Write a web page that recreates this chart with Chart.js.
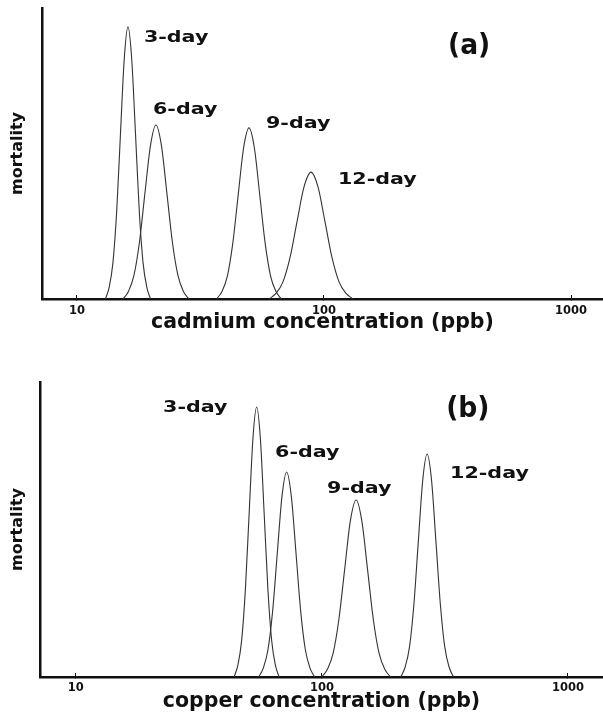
<!DOCTYPE html>
<html>
<head>
<meta charset="utf-8">
<script src="https://cdn.jsdelivr.net/npm/chart.js@4/dist/chart.umd.min.js"></script>
<style>
  html, body { margin: 0; padding: 0; background: #fff; }
  .panel { position: relative; width: 603px; }
  #panelA { height: 345px; }
  #panelB { height: 367px; }
</style>
</head>
<body>
<div class="panel" id="panelA"><canvas id="cadmiumChart"></canvas></div>
<div class="panel" id="panelB"><canvas id="copperChart"></canvas></div>
<script>
// tick labels on the log axis and the curve names
const xTickValues = [10, 100, 1000];
const dayLabels = ['3-day', '6-day', '9-day', '12-day'];

// cadmium (ppb) vs relative mortality
const cd3Conc = [13.04, 13.51, 13.99, 14.49, 15.00, 15.54, 16.09, 16.66, 17.26, 17.87, 18.51, 19.17, 19.85];
const cd3Mort = [0, 0.041, 0.126, 0.304, 0.567, 0.825, 0.935, 0.825, 0.567, 0.304, 0.126, 0.041, 0];
const cd6Conc = [15.35, 16.16, 17.01, 17.90, 18.84, 19.84, 20.88, 21.98, 23.13, 24.35, 25.63, 26.98, 28.40];
const cd6Mort = [0, 0.026, 0.081, 0.194, 0.363, 0.527, 0.598, 0.527, 0.363, 0.194, 0.081, 0.026, 0];
const cd9Conc = [36.75, 38.64, 40.64, 42.73, 44.94, 47.26, 49.70, 52.27, 54.96, 57.80, 60.78, 63.92, 67.22];
const cd9Mort = [0, 0.026, 0.079, 0.191, 0.357, 0.519, 0.588, 0.519, 0.357, 0.191, 0.079, 0.026, 0];
const cd12Conc = [59.88, 63.92, 68.23, 72.84, 77.75, 83.00, 88.60, 94.58, 100.96, 107.77, 115.05, 122.81, 131.10];
const cd12Mort = [0, 0.019, 0.059, 0.142, 0.265, 0.385, 0.436, 0.385, 0.265, 0.142, 0.059, 0.019, 0];

// copper (ppb) vs relative mortality
const cu3Conc = [43.99, 45.56, 47.19, 48.87, 50.62, 52.43, 54.30, 56.24, 58.25, 60.33, 62.48, 64.71, 67.02];
const cu3Mort = [0, 0.040, 0.124, 0.297, 0.555, 0.807, 0.915, 0.807, 0.555, 0.297, 0.124, 0.040, 0];
const cu6Conc = [55.37, 57.83, 60.41, 63.10, 65.90, 68.84, 71.90, 75.10, 78.44, 81.93, 85.58, 89.39, 93.36];
const cu6Mort = [0, 0.031, 0.094, 0.226, 0.422, 0.613, 0.695, 0.613, 0.422, 0.226, 0.094, 0.031, 0];
const cu9Conc = [99.75, 105.3, 111.1, 117.2, 123.7, 130.5, 137.7, 145.3, 153.3, 161.8, 170.7, 180.2, 190.1];
const cu9Mort = [0, 0.026, 0.081, 0.195, 0.364, 0.529, 0.600, 0.529, 0.364, 0.195, 0.081, 0.026, 0];
const cu12Conc = [209.0, 217.8, 227.0, 236.5, 246.5, 256.9, 267.7, 279.0, 290.7, 303.0, 315.7, 329.0, 342.9];
const cu12Mort = [0, 0.033, 0.102, 0.246, 0.459, 0.667, 0.756, 0.667, 0.459, 0.246, 0.102, 0.033, 0];

const AXIS_FONT = '"DejaVu Sans", sans-serif';
const INK = '#111';
const CURVE = '#333';

function toPoints(conc, mort) {
    return conc.map((c, i) => ({ x: c, y: mort[i] }));
}

// text next to the peaks + the panel letter, anchored in data units
const curveLabelPlugin = {
    id: 'curveLabels',
    afterDatasetsDraw(chart, args, opts) {
        const { ctx, scales: { x, y } } = chart;
        ctx.save();
        ctx.fillStyle = INK;
        ctx.textAlign = 'left';
        ctx.textBaseline = 'middle';
        opts.items.forEach(item => {
            ctx.save();
            ctx.translate(x.getPixelForValue(item.at[0]), y.getPixelForValue(item.at[1]));
            ctx.scale(item.stretch, 1);
            ctx.font = `bold ${item.size}px ${AXIS_FONT}`;
            ctx.fillText(item.text, 0, 0);
            ctx.restore();
        });
        ctx.restore();
    }
};

function makePanel(canvasId, p) {
    const ctx = document.getElementById(canvasId).getContext('2d');
    return new Chart(ctx, {
        type: 'line',
        data: {
            datasets: p.series.map((s, i) => ({
                label: dayLabels[i],
                data: toPoints(s[0], s[1]),
                borderColor: CURVE,
                borderWidth: 1.1,
                pointRadius: 0,
                fill: false,
                cubicInterpolationMode: 'monotone'
            }))
        },
        options: {
            responsive: true,
            maintainAspectRatio: false,
            animation: false,
            layout: { padding: { top: p.top, right: 0, bottom: 0, left: 0 } },
            plugins: {
                legend: { display: false },
                tooltip: { enabled: false },
                curveLabels: { items: p.labels }
            },
            scales: {
                x: {
                    type: 'logarithmic',
                    min: p.xMin,
                    max: p.xMax,
                    afterBuildTicks: scale => { scale.ticks = xTickValues.map(v => ({ value: v })); },
                    afterFit: scale => { scale.height = p.xHeight; },
                    ticks: {
                        autoSkip: false,
                        maxRotation: 0,
                        padding: p.tickPad,
                        color: INK,
                        font: { family: AXIS_FONT, size: 11.5, weight: 'bold' },
                        callback: v => String(v)
                    },
                    grid: { display: true, drawOnChartArea: false, drawTicks: true, tickLength: -4, color: INK, lineWidth: 1 },
                    border: { display: true, color: INK, width: 2.5 },
                    title: {
                        display: true,
                        text: p.xTitle,
                        color: INK,
                        font: { family: AXIS_FONT, size: 20.5, weight: 'bold', lineHeight: 1 },
                        padding: { top: 0, bottom: p.titlePad }
                    }
                },
                y: {
                    min: 0,
                    max: 1,
                    afterFit: scale => { scale.width = p.yWidth; },
                    ticks: { display: false },
                    grid: { display: false },
                    border: { display: true, color: INK, width: 2.5 },
                    title: {
                        display: true,
                        text: 'mortality',
                        color: INK,
                        font: { family: AXIS_FONT, size: 16, weight: 'bold', lineHeight: 1 },
                        padding: { top: 10, bottom: 0 }
                    }
                }
            }
        },
        plugins: [curveLabelPlugin]
    });
}

makePanel('cadmiumChart', {
    series: [[cd3Conc, cd3Mort], [cd6Conc, cd6Mort], [cd9Conc, cd9Mort], [cd12Conc, cd12Mort]],
    xTitle: 'cadmium concentration (ppb)',
    xMin: 7.22, xMax: 1347,
    top: 8, xHeight: 46, yWidth: 42, tickPad: 9, titlePad: 12,
    labels: [
        { text: dayLabels[0], at: [18.67, 0.897], size: 16.5, stretch: 1.25 },
        { text: dayLabels[1], at: [20.31, 0.649], size: 16.5, stretch: 1.25 },
        { text: dayLabels[2], at: [58.25, 0.601], size: 16.5, stretch: 1.25 },
        { text: dayLabels[3], at: [113.9, 0.409], size: 16.5, stretch: 1.25 },
        { text: '(a)', at: [317.7, 0.866], size: 28, stretch: 0.95 }
    ]
});

makePanel('copperChart', {
    series: [[cu3Conc, cu3Mort], [cu6Conc, cu6Mort], [cu9Conc, cu9Mort], [cu12Conc, cu12Mort]],
    xTitle: 'copper concentration (ppb)',
    xMin: 7.15, xMax: 1388,
    top: 37, xHeight: 35, yWidth: 40, tickPad: 8, titlePad: 0,
    labels: [
        { text: dayLabels[0], at: [22.62, 0.912], size: 16.5, stretch: 1.25 },
        { text: dayLabels[1], at: [64.5, 0.759], size: 16.5, stretch: 1.25 },
        { text: dayLabels[2], at: [105.0, 0.637], size: 16.5, stretch: 1.25 },
        { text: dayLabels[3], at: [331.9, 0.688], size: 16.5, stretch: 1.25 },
        { text: '(b)', at: [319.8, 0.905], size: 28, stretch: 0.95 }
    ]
});
</script>
</body>
</html>
